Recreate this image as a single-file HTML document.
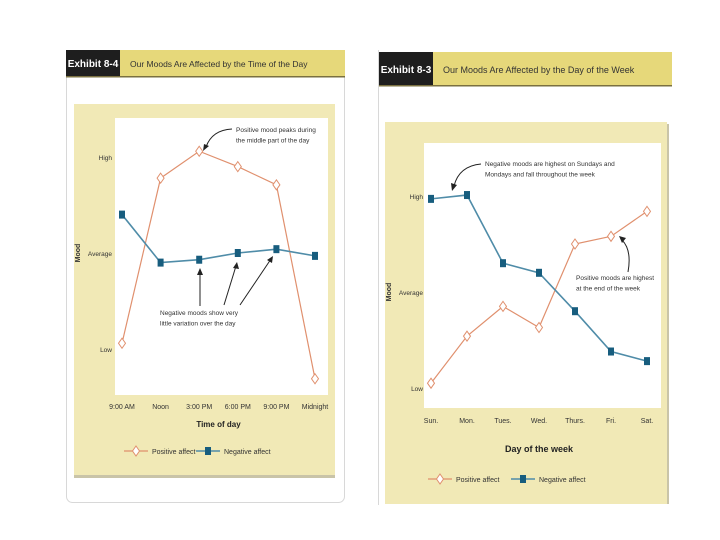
<!DOCTYPE html>
<html><head><meta charset="utf-8"><style>
html,body{margin:0;padding:0;background:#fff;}
svg{display:block;font-family:"Liberation Sans Narrow","Liberation Sans",sans-serif;}
</style></head><body>
<svg id="s" width="720" height="540" viewBox="0 0 720 540">
<rect x="66.5" y="50.5" width="278" height="452" rx="6" fill="#fff" stroke="#d8d8d8"/>
<rect x="66" y="50" width="54" height="27" fill="#1e1e1e"/>
<text x="93" y="67" font-size="10" fill="#fff" text-anchor="middle" font-weight="bold">Exhibit 8-4</text>
<rect x="120" y="50" width="225" height="27" fill="#e6d87a"/>
<rect x="66" y="76" width="279" height="1.5" fill="#7a7040"/>
<text x="130" y="67" font-size="8.5" fill="#333">Our Moods Are Affected by the Time of the Day</text>
<rect x="74" y="104" width="261" height="371" fill="#f1e9b6"/>
<rect x="74" y="475" width="261" height="3" fill="#c9c4a8"/>
<rect x="115" y="118" width="213" height="277" fill="#fff"/>
<rect x="378" y="50" width="1" height="455" fill="#d8d8d8"/>
<rect x="379" y="52" width="54" height="34" fill="#1e1e1e"/>
<text x="406" y="73" font-size="10" fill="#fff" text-anchor="middle" font-weight="bold">Exhibit 8-3</text>
<rect x="433" y="52" width="239" height="34" fill="#e6d87a"/>
<rect x="379" y="85" width="293" height="1.5" fill="#7a7040"/>
<text x="443" y="73" font-size="9" fill="#333">Our Moods Are Affected by the Day of the Week</text>
<rect x="385" y="122" width="282" height="382" fill="#f1e9b6"/>
<rect x="667" y="124" width="2" height="380" fill="#c9c4a8"/>
<rect x="424" y="143" width="237" height="265" fill="#fff"/>
<g id="g"></g>
</svg>
<script>
// Left chart data (High=2, Average=1, Low=0)
const timeCats=["9:00 AM","Noon","3:00 PM","6:00 PM","9:00 PM","Midnight"];
const timePositive=[0.06,1.78,2.06,1.90,1.71,-0.31];
const timeNegative=[1.40,0.90,0.93,1.00,1.04,0.97];
// Right chart data
const dayCats=["Sun.","Mon.","Tues.","Wed.","Thurs.","Fri.","Sat."];
const dayPositive=[0.05,0.54,0.85,0.63,1.50,1.58,1.84];
const dayNegative=[1.97,2.01,1.30,1.20,0.80,0.38,0.28];
const levelLabels=["Low","Average","High"];

const NS="http://www.w3.org/2000/svg",G=document.getElementById('g');
function el(t,a,txt){const e=document.createElementNS(NS,t);for(const k in a)e.setAttribute(k,a[k]);if(txt!=null)e.textContent=txt;G.appendChild(e);return e;}
const POS="#e0906e",NEGL="#4f8ca8",NEGM="#175d7e";
function chart(cfg,cats,pos,neg,pfx){
  const x=i=>cfg.x0+i*(cfg.x1-cfg.x0)/(cats.length-1);
  const y=v=>cfg.yLow-v*(cfg.yLow-cfg.yHigh)/2;
  levelLabels.forEach((l,i)=>{const t=el('text',{x:cfg.lx,y:y(i)+3,'font-size':6.5,'text-anchor':'end',fill:'#333'},l);
    
    });
  const m=el('text',{x:cfg.mx,y:y(1),'font-size':7,'font-weight':'bold','text-anchor':'middle',fill:'#333',transform:`rotate(-90 ${cfg.mx} ${y(1)})`},'Mood');
  
  
  cats.forEach((c,i)=>{const t=el('text',{x:x(i),y:cfg.xly,'font-size':7,'text-anchor':'middle',fill:'#333'},c);
    
    });
  const xt=el('text',{x:(cfg.x0+cfg.x1)/2,y:cfg.xty,'font-size':cfg.tf,'font-weight':'bold','text-anchor':'middle',fill:'#222'},cfg.xtitle);
  
  
  const pl=el('polyline',{points:pos.map((v,i)=>x(i)+','+y(v)).join(' '),fill:'none',stroke:POS,'stroke-width':1.2});
  
  
  const nl=el('polyline',{points:neg.map((v,i)=>x(i)+','+y(v)).join(' '),fill:'none',stroke:NEGL,'stroke-width':1.6});
  
  
  pos.forEach((v,i)=>{const cx=x(i),cy=y(v);const d=el('polygon',{points:`${cx},${cy-5} ${cx+3.5},${cy} ${cx},${cy+5} ${cx-3.5},${cy}`,fill:'#fff',stroke:POS,'stroke-width':1});
    
    });
  neg.forEach((v,i)=>{const r=el('rect',{x:x(i)-3,y:y(v)-4,width:6,height:8,fill:NEGM});
    
    });
  const ly=cfg.ly,lx=cfg.lgx;
  el('line',{x1:lx,y1:ly,x2:lx+24,y2:ly,stroke:POS,'stroke-width':1.2});
  el('polygon',{points:`${lx+12},${ly-5} ${lx+15.5},${ly} ${lx+12},${ly+5} ${lx+8.5},${ly}`,fill:'#fff',stroke:POS});
  const t1=el('text',{x:lx+28,y:ly+3,'font-size':7,fill:'#333'},'Positive affect');
  
  
  const nx=lx+cfg.lgap;
  el('line',{x1:nx,y1:ly,x2:nx+24,y2:ly,stroke:NEGL,'stroke-width':1.6});
  el('rect',{x:nx+9,y:ly-4,width:6,height:8,fill:NEGM});
  const t2=el('text',{x:nx+28,y:ly+3,'font-size':7,fill:'#333'},'Negative affect');
  
  
}
chart({x0:122,x1:315,yLow:349,yHigh:157,lx:112,mx:80,xly:409,xty:427,tf:8,xtitle:'Time of day',ly:451,lgx:124,lgap:72},timeCats,timePositive,timeNegative,'left');
chart({x0:431,x1:647,yLow:388,yHigh:196,lx:423,mx:391,xly:423,xty:452,tf:9,xtitle:'Day of the week',ly:479,lgx:428,lgap:83},dayCats,dayPositive,dayNegative,'right');
function note(x,y,lines,fs,pfx){lines.forEach((l,i)=>{const t=el('text',{x:x,y:y+i*fs*1.6,'font-size':fs,fill:'#333'},l);
  
  });}
function arrow(d){el('path',{d:d,fill:'none',stroke:'#222','stroke-width':1});}
note(236,132,["Positive mood peaks during","the middle part of the day"],6.5,'left-annotation-positive');
arrow("M232,129 Q212,130 206,147");el('polygon',{points:"203,151 204,144 209,146",fill:'#222'});
note(160,315,["Negative moods show very","little variation over the day"],6.5,'left-annotation-negative');
arrow("M200,306 L200,272");el('polygon',{points:"200,268 197,275 203,275",fill:'#222'});
arrow("M224,305 L236,266");el('polygon',{points:"237,262 233,268 239,269",fill:'#222'});
arrow("M240,305 L271,259");el('polygon',{points:"273,256 267,260 272,263",fill:'#222'});
note(485,166,["Negative moods are highest on Sundays and","Mondays and fall throughout the week"],6.5,'right-annotation-negative');
arrow("M481,164 Q459,166 454,186");el('polygon',{points:"452,191 451,183 457,185",fill:'#222'});
note(576,280,["Positive moods are highest","at the end of the week"],6.5,'right-annotation-positive');
arrow("M628,272 Q632,250 622,240");el('polygon',{points:"619,236 626,238 622,243",fill:'#222'});
</script>
</body></html>
